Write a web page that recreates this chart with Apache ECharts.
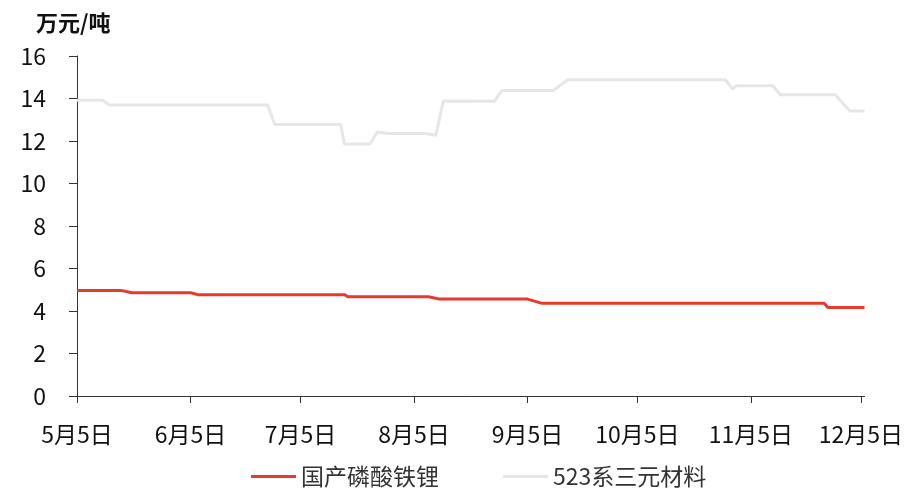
<!DOCTYPE html>
<html><head><meta charset="utf-8">
<script src="https://cdn.jsdelivr.net/npm/echarts@6/dist/echarts.min.js"></script>
<style>html,body{margin:0;padding:0;background:#fff}#c{width:906px;height:488px}</style>
</head><body><div id="c"></div>
<script>
// Breakpoint dates and values (万元/吨)
const lfpDates = ['2024-05-05','2024-05-17','2024-05-20','2024-06-05','2024-06-07','2024-07-17','2024-07-18','2024-08-09','2024-08-12','2024-09-05','2024-09-09','2024-11-25','2024-11-26','2024-12-06'];
const lfpValues = [4.97,4.97,4.86,4.86,4.77,4.77,4.67,4.67,4.56,4.56,4.36,4.36,4.16,4.16];
const nmcDates = ['2024-05-05','2024-05-12','2024-05-14','2024-06-26','2024-06-28','2024-07-16','2024-07-17','2024-07-24','2024-07-26','2024-07-29','2024-08-08','2024-08-11','2024-08-13','2024-08-27','2024-08-29','2024-09-12','2024-09-16','2024-10-29','2024-10-31','2024-11-01','2024-11-11','2024-11-13','2024-11-28','2024-12-02','2024-12-06'];
const nmcValues = [13.92,13.92,13.69,13.69,12.78,12.78,11.86,11.86,12.42,12.35,12.35,12.27,13.88,13.87,14.38,14.38,14.88,14.88,14.45,14.6,14.6,14.18,14.18,13.41,13.41];
const seriesNames = ['国产磷酸铁锂','523系三元材料'];
const tickDates = ['2024-05-05','2024-06-05','2024-07-05','2024-08-05','2024-09-05','2024-10-05','2024-11-05','2024-12-05'];
const tickLabels = ['5月5日','6月5日','7月5日','8月5日','9月5日','10月5日','11月5日','12月5日'];

const DAY = 86400000;
const ts = s => { const p = s.split('-').map(Number); return Date.UTC(p[0], p[1]-1, p[2]) / DAY; };
const tickTs = tickDates.map(ts);
const font = '"Noto Sans CJK SC", "Noto Sans", sans-serif';

const chart = echarts.init(document.getElementById('c'));
chart.setOption({
  animation: false,
  textStyle: { fontFamily: font },
  title: { text: '万元/吨', left: 31, top: 7, textStyle: { fontSize: 22, fontWeight: 'bold', color: '#111', fontFamily: font } },
  grid: { left: 77, right: 40, top: 56, bottom: 92, containLabel: false },
  legend: {
    top: 465, left: 251, padding: 0, icon: 'rect', itemWidth: 45, itemHeight: 3, itemGap: 64,
    textStyle: { fontSize: 23, color: '#333', fontFamily: font },
    data: seriesNames
  },
  xAxis: {
    type: 'value', min: ts('2024-05-05'), max: ts('2024-12-06'),
    axisLine: { show: true, lineStyle: { color: '#333', width: 1 } },
    axisTick: { show: true, length: 7, lineStyle: { color: '#333' }, customValues: tickTs },
    axisLabel: {
      fontSize: 23, color: '#111', margin: 27, fontFamily: font, customValues: tickTs,
      formatter: v => { const i = tickTs.indexOf(v); return i >= 0 ? tickLabels[i] : ''; }
    },
    splitLine: { show: false }
  },
  yAxis: {
    type: 'value', min: 0, max: 16, interval: 2,
    axisLine: { show: true, lineStyle: { color: '#333', width: 1 } },
    axisTick: { show: true, length: 8, lineStyle: { color: '#333' } },
    axisLabel: { fontSize: 23, color: '#111', margin: 31, fontFamily: font },
    splitLine: { show: false }
  },
  series: [
    { name: seriesNames[0], type: 'line', showSymbol: false, symbol: 'none',
      lineStyle: { color: '#E8392C', width: 3 }, itemStyle: { color: '#E8392C' },
      data: lfpDates.map((d, i) => [ts(d), lfpValues[i]]) },
    { name: seriesNames[1], type: 'line', showSymbol: false, symbol: 'none',
      lineStyle: { color: '#E6E6E6', width: 3 }, itemStyle: { color: '#E6E6E6' },
      data: nmcDates.map((d, i) => [ts(d), nmcValues[i]]) }
  ]
});
</script></body></html>
